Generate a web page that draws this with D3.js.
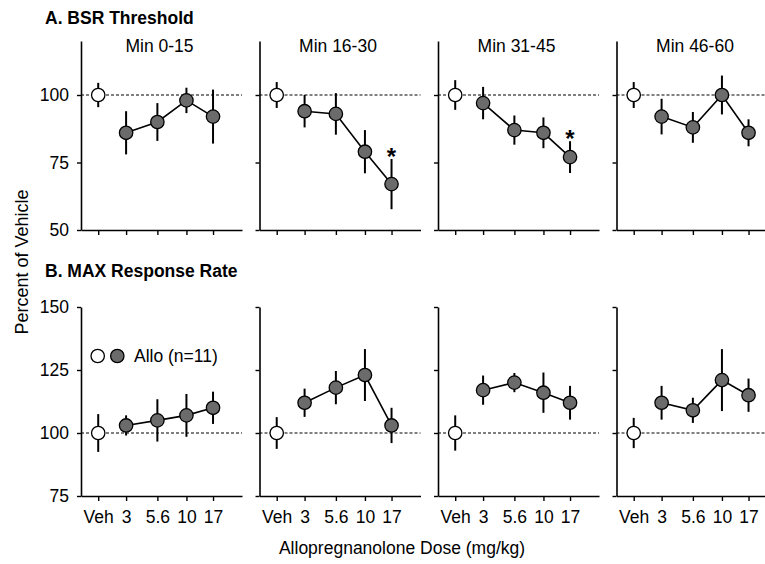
<!DOCTYPE html>
<html>
<head>
<meta charset="utf-8">
<script src="https://cdn.jsdelivr.net/npm/d3@7"></script>
<style>
  body { margin: 0; background: #fff; }
  text { font-family: Arial, "Liberation Sans", sans-serif; }
</style>
</head>
<body>
<div id="chart"></div>
<script>
// Chart data
const doses = ["Veh", "3", "5.6", "10", "17"];
const periods = ["Min 0-15", "Min 16-30", "Min 31-45", "Min 46-60"];

// BSR threshold (% of vehicle), one row per period
const bsrMean = [
  [100, 86, 90, 98, 92],
  [100, 94, 93, 79, 67],
  [100, 97, 87, 86, 77],
  [100, 92, 88, 100, 86]
];
const bsrErr = [
  [4.5, 8, 7, 4.7, 10],
  [4.8, 6, 7.7, 8, 9.3],
  [5.5, 6, 5.4, 5.7, 5.9],
  [4.8, 6.6, 5.7, 7.2, 5]
];
const bsrSig = [
  [false, false, false, false, false],
  [false, false, false, false, true],
  [false, false, false, false, true],
  [false, false, false, false, false]
];

// MAX response rate (% of vehicle)
const maxMean = [
  [100, 103, 105, 107, 110],
  [100, 112, 118, 123, 103],
  [100, 117, 120, 116, 112],
  [100, 112, 109, 121, 115]
];
const maxErr = [
  [7.5, 4, 8.4, 8.5, 6.4],
  [6.3, 5.6, 6.6, 10.3, 7],
  [7, 5.8, 3.8, 8, 6.7],
  [6, 6.7, 5, 12.3, 6.6]
];

const bsrTicks = [50, 75, 100];
const maxTicks = [75, 100, 125, 150];

const width = 765;
const height = 564;
const fs = "17.5px";

const svg = d3.select("#chart")
  .append("svg")
  .attr("width", width)
  .attr("height", height);

// panel geometry
const panelX = [81, 259.5, 438, 616.5];
const axisW = 161;
const fillGray = "#6b6b6b";

// dose axis is log spaced; vehicle sits at a fixed spot left of 3 mg/kg
const doseVal = [1.72, 3, 5.6, 10, 17];
const x = d3.scaleLog().domain([1.22, 30.3]).range([0, axisW]);

const rows = [
  { mean: bsrMean, err: bsrErr, sig: bsrSig, y: d3.scaleLinear().domain([50, 120]).range([230, 41]), ticks: bsrTicks },
  { mean: maxMean, err: maxErr, sig: null, y: d3.scaleLinear().domain([75, 150]).range([496, 307]), ticks: maxTicks }
];

rows.forEach(function(row, r) {
  const y = row.y;
  periods.forEach(function(p, i) {
    const g = svg.append("g").attr("transform", `translate(${panelX[i]},0)`);

    // dashed reference line at 100%
    g.append("line")
      .attr("x1", 0).attr("x2", axisW)
      .attr("y1", y(100)).attr("y2", y(100))
      .attr("stroke", "#000")
      .attr("stroke-width", 1.2)
      .attr("stroke-dasharray", "3,2");

    // y axis
    const yAxis = d3.axisLeft(y).tickValues(row.ticks).tickSizeOuter(0).tickSizeInner(4).tickPadding(8);
    if (i > 0) yAxis.tickFormat("");
    const ya = g.append("g").call(yAxis);
    ya.selectAll("text").attr("font-size", fs).attr("fill", "#000").style("font-family", "Arial, 'Liberation Sans', sans-serif");

    // x axis
    const xa = g.append("g")
      .attr("transform", `translate(0,${y.range()[0]})`)
      .call(d3.axisBottom(x).tickValues(doseVal).tickSizeOuter(0).tickSizeInner(5).tickPadding(10)
        .tickFormat((d, k) => r === 1 ? doses[k] : ""));
    xa.selectAll("text").attr("font-size", fs).attr("fill", "#000").style("font-family", "Arial, 'Liberation Sans', sans-serif");

    [ya, xa].forEach(function(a) {
      a.select(".domain").attr("stroke", "#000").attr("stroke-width", 1.6);
      a.selectAll(".tick line").attr("stroke", "#000").attr("stroke-width", 1.4);
    });

    const pts = row.mean[i].map((m, k) => ({ dose: doseVal[k], m: m, e: row.err[i][k], k: k }));

    // error bars
    g.selectAll(".err")
      .data(pts)
      .enter()
      .append("line")
      .attr("x1", d => x(d.dose)).attr("x2", d => x(d.dose))
      .attr("y1", d => y(d.m + d.e)).attr("y2", d => y(d.m - d.e))
      .attr("stroke", "#000")
      .attr("stroke-width", 2);

    // line through drug doses only
    g.append("path")
      .datum(pts.slice(1))
      .attr("fill", "none")
      .attr("stroke", "#000")
      .attr("stroke-width", 1.6)
      .attr("d", d3.line().x(d => x(d.dose)).y(d => y(d.m)));

    g.selectAll(".pt")
      .data(pts)
      .enter()
      .append("circle")
      .attr("cx", d => x(d.dose))
      .attr("cy", d => y(d.m))
      .attr("r", 6.7)
      .attr("fill", d => d.k === 0 ? "#fff" : fillGray)
      .attr("stroke", "#000")
      .attr("stroke-width", 1.3);

    // significance markers
    if (row.sig) {
      g.selectAll(".sig")
        .data(pts.filter(d => row.sig[i][d.k]))
        .enter()
        .append("text")
        .attr("x", d => x(d.dose))
        .attr("y", d => y(d.m + d.e) + 6)
        .attr("text-anchor", "middle")
        .attr("font-size", "24px")
        .attr("font-weight", "bold")
        .text("*");
    }

    // period titles on top row
    if (r === 0) {
      g.append("text")
        .attr("x", axisW / 2 - 2)
        .attr("y", 52)
        .attr("text-anchor", "middle")
        .attr("font-size", fs)
        .text(p);
    }
  });
});

// section headings
svg.append("text").attr("x", 45).attr("y", 24)
  .attr("font-size", fs).attr("font-weight", "bold").text("A. BSR Threshold");
svg.append("text").attr("x", 45).attr("y", 277)
  .attr("font-size", fs).attr("font-weight", "bold").text("B. MAX Response Rate");

// axis titles
svg.append("text")
  .attr("transform", "translate(28,262) rotate(-90)")
  .attr("text-anchor", "middle")
  .attr("font-size", "18px")
  .text("Percent of Vehicle");
svg.append("text")
  .attr("x", 402).attr("y", 554)
  .attr("text-anchor", "middle")
  .attr("font-size", fs)
  .text("Allopregnanolone Dose (mg/kg)");

// legend
const leg = svg.append("g");
leg.append("circle").attr("cx", 97.7).attr("cy", 356).attr("r", 6.7)
  .attr("fill", "#fff").attr("stroke", "#000").attr("stroke-width", 1.3);
leg.append("circle").attr("cx", 117.3).attr("cy", 356).attr("r", 6.7)
  .attr("fill", fillGray).attr("stroke", "#000").attr("stroke-width", 1.3);
leg.append("text").attr("x", 134).attr("y", 362)
  .attr("font-size", fs).text("Allo (n=11)");
</script>
</body>
</html>
